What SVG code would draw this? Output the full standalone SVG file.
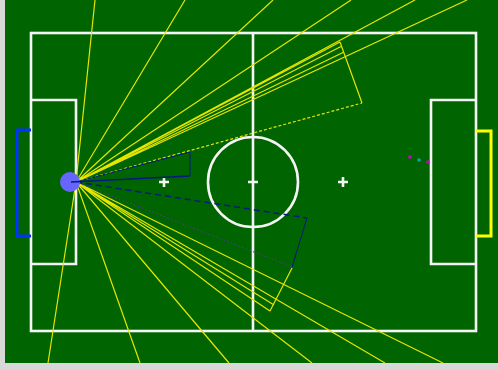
<svg xmlns="http://www.w3.org/2000/svg" width="498" height="370" viewBox="0 0 498 370">
<style>
.w{fill:none;stroke:#f4f4f4;stroke-width:2.6}
.ray{stroke:#e6e600;stroke-width:1.2;fill:none}
.nv{stroke:#001a80;fill:none}
</style>
<rect x="0" y="0" width="498" height="370" fill="#d8d8d8"/>
<rect x="5" y="0" width="493" height="363" fill="#006400"/>
<g id="field">
<rect class="w" x="31" y="33" width="445" height="298"/>
<line class="w" x1="253" y1="33" x2="253" y2="331"/>
<circle class="w" cx="253" cy="182" r="45"/>
<polyline class="w" points="31,100 76,100 76,264 31,264"/>
<polyline class="w" points="476,100 431,100 431,264 476,264"/>
<path class="w" d="M159,182h10M164,177v10M248,182h10M338,182h10M343,177v10"/>
</g>
<g id="goals">
<polyline points="31,130 17,130 17,236 31,236" fill="none" stroke="#0033ff" stroke-width="3"/>
<polyline points="476,131 491,131 491,236 476,236" fill="none" stroke="#ffff00" stroke-width="3"/>
</g>
<g id="rays">
<path class="ray" d="M76,182L95,0M76,182L185,0M76,182L273,0M76,182L351,0M76,182L415,0M76,182L467,0M76,182L340,42M76,182L342,46M76,182L344,52M340,42L362,103"/>
<path class="ray" d="M76,182L362,103" stroke-dasharray="3 2"/>
<path class="ray" d="M76,182L48,363M76,182L140,363M76,182L229,363M76,182L312,363M76,182L385,363M76,182L443,363M76,182L270,311M76,182L274,305M292,268L270,311"/>
</g>
<g id="view">
<path class="nv" d="M76,182L190,152L190,176" stroke-width="1"/>
<path class="nv" d="M76,182L307,218" stroke-width="1.5" stroke-dasharray="6 4"/>
<path class="nv" d="M307,218L292,267" stroke-width="1"/>
<path d="M292,267L76,182" stroke="#4a3f80" stroke-width="1" stroke-dasharray="2 2" fill="none"/>
</g>
<g id="robot">
<circle cx="70" cy="182" r="10" fill="#6666ff"/>
<path class="nv" d="M71,182L190,176" stroke-width="1.5"/>
</g>
<g id="ball">
<circle cx="410" cy="157" r="1.8" fill="#cc00cc"/>
<circle cx="419" cy="160" r="1.8" fill="#00aaaa"/>
<circle cx="428" cy="162" r="1.8" fill="#cc00cc"/>
</g>
</svg>
